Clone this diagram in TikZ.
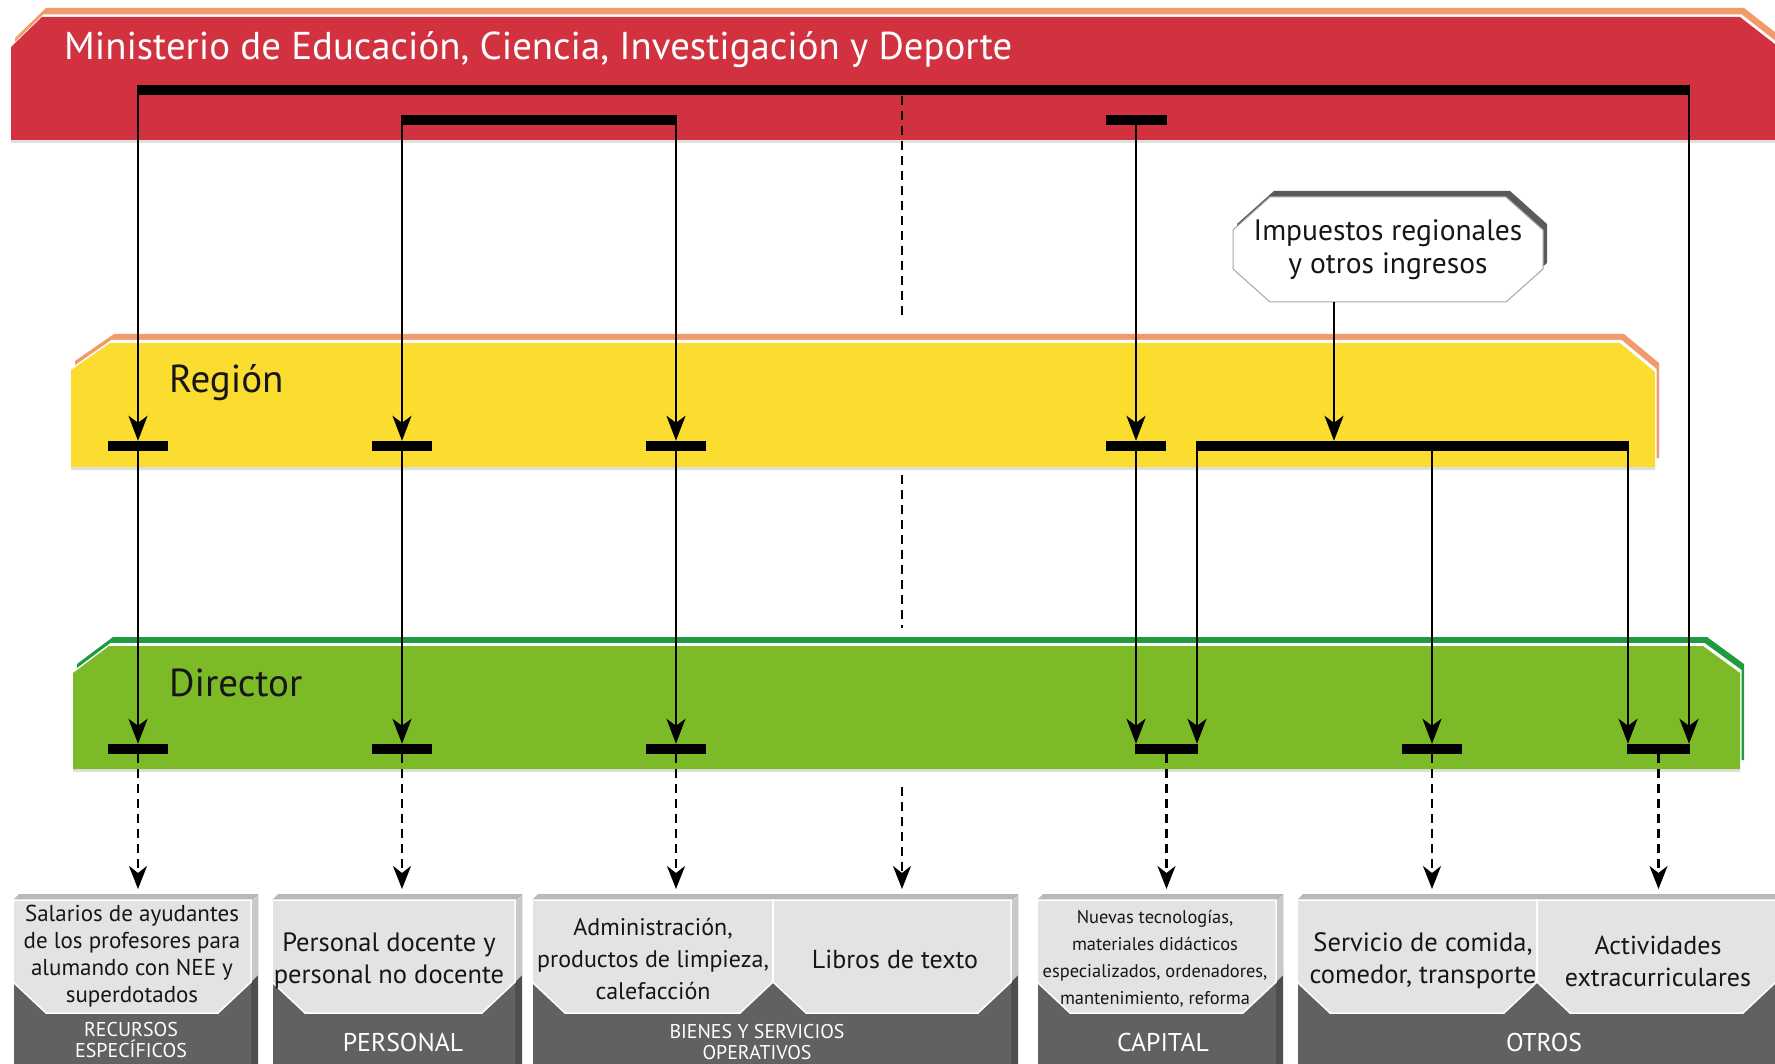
\documentclass[tikz,border=0pt]{standalone}
\usepackage{fontspec}
\setmainfont{PT Sans}
\usetikzlibrary{arrows.meta}
\definecolor{mred}{HTML}{D23240}
\definecolor{morange}{HTML}{F39A6B}
\definecolor{myellow}{HTML}{FBDD30}
\definecolor{mgreen}{HTML}{7DBA28}
\definecolor{mdgreen}{HTML}{1E9B3C}
\definecolor{boxdark}{HTML}{616161}
\definecolor{panelfill}{HTML}{E3E3E3}
\definecolor{topface}{HTML}{B9B9B9}
\definecolor{sidelight}{HTML}{C9C9C9}
\definecolor{sidedark}{HTML}{4E4E4E}
\definecolor{impshadow}{HTML}{5A5A5A}
\definecolor{txt}{HTML}{161616}
\newcommand\myfs[2]{\fontsize{#1}{#2}\selectfont}
\newcommand\botbox[2]{%
  \fill[topface] ({#1+6},894) -- ({#2+7},894) -- (#2,900) -- (#1,900) -- cycle;
  \fill[sidedark] (#2,900) -- ({#2+7},894) -- ({#2+7},1070) -- (#2,1070) -- cycle;
  \fill[sidelight] (#2,900) -- ({#2+7},894) -- ({#2+7},975) -- (#2,982) -- cycle;
  \fill[boxdark] (#1,900) rectangle (#2,1070);
  \draw[white, line width=1pt] (#1,1070) -- (#1,900) -- (#2,900);
}
\newcommand\botpanel[2]{%
  \filldraw[fill=panelfill, draw=white, line width=1.5pt]
    (#1,900) -- (#2,900) -- (#2,982) -- ({#2-33},1013) -- ({#1+33},1013) -- (#1,982) -- cycle;
}
\tikzset{
  conn/.style={line width=2.5pt, draw=black},
  arr/.style={conn, -{Stealth[length=25pt,width=19pt,inset=7pt]}},
  dsh/.style={conn, dash pattern=on 9pt off 6pt, -{Stealth[length=23pt,width=18pt,inset=7pt]}},
  dshplain/.style={conn, dash pattern=on 9pt off 6pt},
  barnode/.style={fill=black, draw=none, inner sep=0pt, minimum height=10pt},
  boxtext/.style={text=txt, align=center, inner sep=0pt},
  boxlabel/.style={text=white, align=center, inner sep=0pt},
}
\begin{document}
\begin{tikzpicture}[x=1pt,y=-1pt]
\useasboundingbox (0,0) rectangle (1775,1064);
\clip (0,0) rectangle (1775,1064);
\fill[white] (0,0) rectangle (1775,1064);

% ---------- red band ----------
\fill[gray!25, shift={(0,3)}] (11,47) -- (42,17) -- (1740,17) -- (1776,45) -- (1780,45) -- (1780,140) -- (11,140) -- cycle;
\fill[morange, shift={(4,-9)}] (11,47) -- (42,17) -- (1740,17) -- (1776,45) -- (1780,45) -- (1780,140) -- (11,140) -- cycle;
\fill[white, shift={(1.5,-2.5)}] (11,47) -- (42,17) -- (1740,17) -- (1776,45) -- (1780,45) -- (1780,140) -- (11,140) -- cycle;
\fill[mred] (11,47) -- (42,17) -- (1740,17) -- (1776,45) -- (1780,45) -- (1780,140) -- (11,140) -- cycle;
\node[anchor=base west, inner sep=0pt, text=white, font=\myfs{38.8}{42}] (title) at (64,60)
  {Ministerio de Educación, Ciencia, Investigación y Deporte};

% ---------- yellow band ----------
\fill[gray!25, shift={(0,3)}] (71,370) -- (110,343) -- (1620,343) -- (1655,372) -- (1655,467) -- (71,467) -- cycle;
\fill[morange, shift={(4,-9)}] (71,370) -- (110,343) -- (1620,343) -- (1655,372) -- (1655,467) -- (71,467) -- cycle;
\fill[white, shift={(1.5,-3)}] (71,370) -- (110,343) -- (1620,343) -- (1655,372) -- (1655,467) -- (71,467) -- cycle;
\fill[myellow] (71,370) -- (110,343) -- (1620,343) -- (1655,372) -- (1655,467) -- (71,467) -- cycle;
\node[anchor=base west, inner sep=0pt, text=txt, font=\myfs{39}{42}] (region) at (169,393) {Región};

% ---------- green band ----------
\fill[gray!25, shift={(0,3)}] (73,673) -- (109,646) -- (1703,646) -- (1740,673) -- (1740,769) -- (73,769) -- cycle;
\fill[mdgreen, shift={(4,-9)}] (73,673) -- (109,646) -- (1703,646) -- (1740,673) -- (1740,769) -- (73,769) -- cycle;
\fill[white, shift={(1.5,-3)}] (73,673) -- (109,646) -- (1703,646) -- (1740,673) -- (1740,769) -- (73,769) -- cycle;
\fill[mgreen] (73,673) -- (109,646) -- (1703,646) -- (1740,673) -- (1740,769) -- (73,769) -- cycle;
\node[anchor=base west, inner sep=0pt, text=txt, font=\myfs{39}{42}] (director) at (169,696) {Director};

% ---------- Impuestos box ----------
\fill[impshadow, shift={(4,-6)}] (1233,230) -- (1270,197) -- (1506,197) -- (1543,230) -- (1543,269) -- (1506,302) -- (1270,302) -- (1233,269) -- cycle;
\filldraw[fill=white, draw=gray!70, line width=1pt] (1233,230) -- (1270,197) -- (1506,197) -- (1543,230) -- (1543,269) -- (1506,302) -- (1270,302) -- (1233,269) -- cycle;
\node[minimum width=310pt, minimum height=105pt, inner sep=0pt,
      align=center, text=txt, font=\myfs{29.5}{32.5}] (imp) at (1388,249.5)
  {Impuestos regionales\\y otros ingresos};

% ---------- bars ----------
\node[barnode, minimum width=1553.5pt] (tb) at (913.5,90) {};
\node[barnode, minimum width=276.5pt] (t2) at (539,120) {};
\node[barnode, minimum width=61pt] (t3) at (1136,120) {};
\node[barnode, minimum width=60pt] (r1) at (138,446) {};
\node[barnode, minimum width=60pt] (r2) at (402,446) {};
\node[barnode, minimum width=60pt] (r3) at (676,446) {};
\node[barnode, minimum width=60pt] (r4) at (1136,446) {};
\node[barnode, minimum width=433.5pt] (rr) at (1412.5,446) {};
\node[barnode, minimum width=60pt] (d1) at (138,749) {};
\node[barnode, minimum width=60pt] (d2) at (402,749) {};
\node[barnode, minimum width=60pt] (d3) at (676,749) {};
\node[barnode, minimum width=63.5pt] (d4) at (1166.5,749) {};
\node[barnode, minimum width=60pt] (d5) at (1432,749) {};
\node[barnode, minimum width=63.5pt] (d6) at (1658.5,749) {};

% column coordinates
\coordinate (x4b) at (1197,0);
\coordinate (x6a) at (1628,0);
\coordinate (x6b) at (1689,0);
\coordinate (xi) at (1334,0);
\coordinate (bt) at (0,889);

% ---------- connectors ----------
\draw[arr] (tb.center -| r1) -- (r1.north);
\draw[arr] (r1.south) -- (d1.north);
\draw[arr] (t2.center -| r2) -- (r2.north);
\draw[arr] (r2.south) -- (d2.north);
\draw[arr] (t2.center -| r3) -- (r3.north);
\draw[arr] (r3.south) -- (d3.north);
\draw[arr] (t3.south) -- (r4.north);
\draw[arr] (r4.south) -- (r4.south |- d4.north);
\draw[arr] (rr.center -| x4b) -- (d4.north -| x4b);
\draw[arr] (rr.south -| d5) -- (d5.north);
\draw[arr] (rr.center -| x6a) -- (d6.north -| x6a);
\draw[arr] (tb.center -| x6b) -- (d6.north -| x6b);
\draw[arr] (imp.south -| xi) -- (rr.north -| xi);

\draw[dsh] (d1.south) -- (d1 |- bt);
\draw[dsh] (d2.south) -- (d2 |- bt);
\draw[dsh] (d3.south) -- (d3 |- bt);
\draw[dsh] (d4.south) -- (d4 |- bt);
\draw[dsh] (d5.south) -- (d5 |- bt);
\draw[dsh] (d6.south) -- (d6 |- bt);

\coordinate (c1) at (902,96);
\coordinate (c2) at (902,317);
\coordinate (c3) at (902,475);
\coordinate (c4) at (902,628);
\coordinate (c5) at (902,787);
\coordinate (c6) at (902,889);
\draw[dshplain] (c1) -- (c2);
\draw[dshplain] (c3) -- (c4);
\draw[dsh] (c5) -- (c6);

% ---------- bottom boxes ----------
\botbox{13}{251}
\botpanel{13}{251}
\botbox{272}{515}
\botpanel{272}{515}
\botbox{532}{1011}
\botpanel{532}{773}
\botpanel{773}{1011}
\botbox{1037}{1276}
\botpanel{1037}{1276}
\botbox{1297}{1800}
\botpanel{1297}{1537}
\botpanel{1537}{1776}

\node[boxtext, font=\myfs{23}{27}] (bx1) at (132,956)
  {Salarios de ayudantes\\de los profesores para\\alumando con NEE y\\superdotados};
\node[boxtext, font=\myfs{26.5}{32}] (bx2) at (389,961)
  {Personal docente y\\personal no docente};
\node[boxtext, font=\myfs{24}{32}] (bx3) at (653,959)
  {Administración,\\productos de limpieza,\\calefacción};
\node[boxtext, font=\myfs{26}{32}] (bx4) at (895,959) {Libros de texto};
\node[boxtext, font=\myfs{18.4}{27}] (bx5) at (1155,959)
  {Nuevas tecnologías,\\materiales didácticos\\especializados, ordenadores,\\mantenimiento, reforma};
\node[boxtext, font=\myfs{26.5}{32}] (bx6) at (1423,961)
  {Servicio de comida,\\comedor, transporte};
\node[boxtext, font=\myfs{26}{32}] (bx7) at (1658,961)
  {Actividades\\extracurriculares};

\node[boxlabel, font=\myfs{20}{21}] (lb1) at (131,1040) {RECURSOS\\ESPECÍFICOS};
\node[boxlabel, font=\myfs{25.7}{27}] (lb2) at (403,1042) {PERSONAL};
\node[boxlabel, font=\myfs{19.9}{21}] (lb3) at (757,1042) {BIENES Y SERVICIOS\\OPERATIVOS};
\node[boxlabel, font=\myfs{25.7}{27}] (lb4) at (1163,1042) {CAPITAL};
\node[boxlabel, font=\myfs{25.7}{27}] (lb5) at (1544,1042) {OTROS};
\end{tikzpicture}
\end{document}
